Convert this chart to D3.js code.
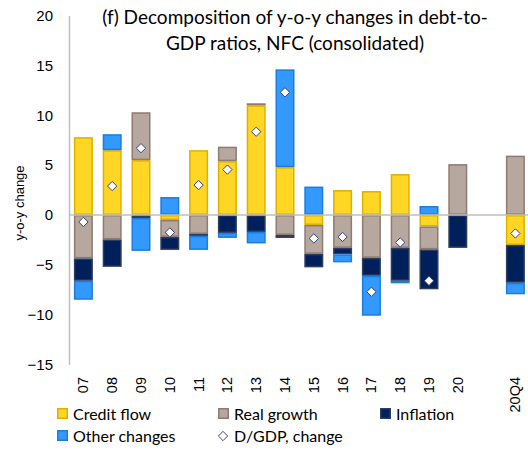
<!DOCTYPE html>
<html><head><meta charset="utf-8">
<script src="https://cdn.jsdelivr.net/npm/d3@7"></script>
<style>body{margin:0;background:#fff}svg{display:block}</style>
</head><body>
<svg id="c" width="528" height="452"></svg>
<script>
const categories = ["07","08","09","10","11","12","13","14","15","16","17","18","19","20","","20Q4"];
const creditFlow  = [7.8, 6.5, 5.5, -0.5, 6.5, 5.4, 11.0, 4.8, -1.0, 2.5, 2.4, 4.1, -1.15, 0, null, -3.0];
const realGrowth  = [-4.35, -2.45, 4.8, -1.7, -1.9, 1.45, 0.2, -2.0, -2.9, -3.3, -4.3, -3.3, -2.3, 5.1, null, 5.95];
const inflation   = [-2.25, -2.75, -0.3, -1.3, -0.2, -1.8, -1.7, -0.3, -1.35, -0.65, -1.8, -3.3, -4.0, -3.3, null, -3.8];
const otherChanges= [-1.9, 1.6, -3.3, 1.8, -1.4, -0.5, -1.15, 9.8, 2.85, -0.8, -4.0, -0.25, 0.9, 0, null, -1.15];
const dgdpChange  = [-0.7, 2.9, 6.7, -1.75, 3.0, 4.55, 8.35, 12.3, -2.35, -2.2, -7.7, -2.75, -6.6, null, null, -1.85];
const yTicks = [-15,-10,-5,0,5,10,15,20];

const seriesNames = ["Credit flow","Real growth","Inflation","Other changes"];
const seriesData = [creditFlow, realGrowth, inflation, otherChanges];
const fills = ["#FFD624","#B6A89F","#00205C","#3399FF"];
const strokes = ["#DDB100","#8F7B71","#2E3D5E","#1A7DE0"];

const svg = d3.select("#c");
const x = d3.scaleBand().domain(d3.range(categories.length)).range([69, 529.8]).paddingInner(0.34).paddingOuter(0.17);
const y = d3.scaleLinear().domain([-15,20]).range([364.6,15.5]);

// y axis
const yAxis = d3.axisLeft(y).tickValues(yTicks).tickSize(0).tickPadding(16);
const ga = svg.append("g").attr("transform","translate(69,0)").call(yAxis);
ga.select(".domain").attr("stroke","#BFBFBF").attr("stroke-width",1.5);
ga.selectAll("text").attr("font-family","Liberation Sans, Arial, sans-serif").attr("font-size",15).attr("fill","#000");

// stacked bars
categories.forEach((c,i)=>{
  let pos=0, neg=0;
  seriesData.forEach((arr,s)=>{
    const v = arr[i];
    if (v==null || v===0) return;
    let y0,y1;
    if (v>0){ y0=pos; y1=pos+v; pos=y1; } else { y0=neg; y1=neg+v; neg=y1; }
    const top = y(Math.max(y0,y1)), bot = y(Math.min(y0,y1));
    svg.append("rect")
      .attr("x", x(i)+0.75).attr("width", x.bandwidth()-1.5)
      .attr("y", top+0.75).attr("height", Math.max(0.5, bot-top-1.5))
      .attr("fill", fills[s]).attr("stroke", strokes[s]).attr("stroke-width",1.5);
  });
});

// zero line
svg.append("line").attr("x1",69).attr("x2",528).attr("y1",y(0)).attr("y2",y(0))
  .attr("stroke","#BFBFBF").attr("stroke-width",1.5);

// diamonds
const diamond = d3.symbol().type(d3.symbolDiamond2).size(55);
dgdpChange.forEach((v,i)=>{
  if (v==null) return;
  svg.append("path").attr("d", diamond())
    .attr("transform",`translate(${x(i)+x.bandwidth()/2},${y(v)})`)
    .attr("fill","#fff").attr("stroke","#3B4178").attr("stroke-width",1);
});

// x labels
categories.forEach((c,i)=>{
  if (!c) return;
  svg.append("text")
    .attr("transform",`translate(${x(i)+x.bandwidth()/2+5},377) rotate(-90)`)
    .attr("text-anchor","end")
    .attr("font-family","Liberation Sans, Arial, sans-serif").attr("font-size",14.5).attr("fill","#000")
    .text(c);
});

// y title
svg.append("text").attr("transform","translate(24,203) rotate(-90)").attr("text-anchor","middle")
  .attr("font-family","Liberation Sans, Arial, sans-serif").attr("font-size",13).text("y-o-y change");

// title
const title = svg.append("text").attr("text-anchor","middle")
  .attr("font-family","Lato, Carlito, sans-serif").attr("font-size",19).attr("fill","#000");
title.append("tspan").attr("x",295).attr("y",24).text("(f) Decomposition of y-o-y changes in debt-to-");
title.append("tspan").attr("x",295).attr("y",50).text("GDP ratios, NFC (consolidated)");

// legend
const legendItems = [
  {name:"Credit flow", s:0, lx:57, ly:414},
  {name:"Real growth", s:1, lx:218, ly:414},
  {name:"Inflation", s:2, lx:380, ly:414},
  {name:"Other changes", s:3, lx:57, ly:436},
];
legendItems.forEach(d=>{
  svg.append("rect").attr("x",d.lx+0.75).attr("y",d.ly-5.25).attr("width",9.5).attr("height",9.5)
    .attr("fill",fills[d.s]).attr("stroke",strokes[d.s]).attr("stroke-width",1.5);
  svg.append("text").attr("x",d.lx+16).attr("y",d.ly+5.5)
    .attr("font-family","Lato, Carlito, sans-serif").attr("font-size",16).text(d.name);
});
svg.append("path").attr("d", diamond()).attr("transform","translate(223,436)")
  .attr("fill","#fff").attr("stroke","#3B4178").attr("stroke-width",1);
svg.append("text").attr("x",234).attr("y",441.5)
  .attr("font-family","Lato, Carlito, sans-serif").attr("font-size",16).text("D/GDP, change");
</script>
</body></html>
